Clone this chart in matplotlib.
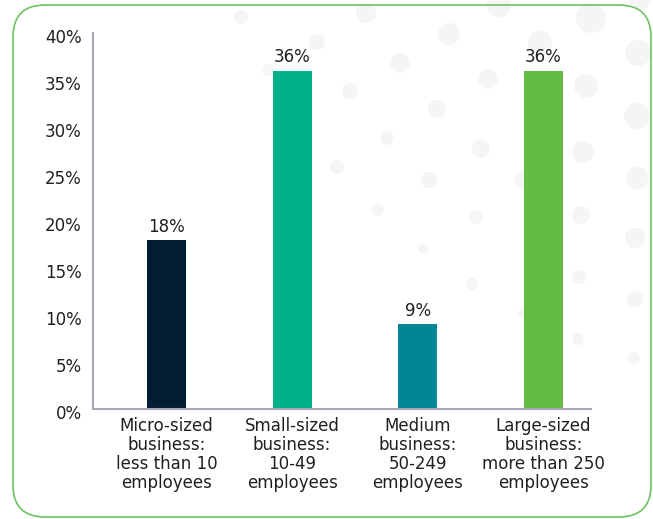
import matplotlib
matplotlib.use("Agg")
import matplotlib.pyplot as plt
from matplotlib.patches import FancyBboxPatch, Circle
from matplotlib.transforms import ScaledTranslation

# Share of businesses by size band (%)
categories = [
    "Micro-sized\nbusiness:\nless than 10\nemployees",
    "Small-sized\nbusiness:\n10-49\nemployees",
    "Medium\nbusiness:\n50-249\nemployees",
    "Large-sized\nbusiness:\nmore than 250\nemployees",
]
values = [18, 36, 9, 36]
bar_colors = ["#021d33", "#00b08b", "#018597", "#64bb46"]
y_ticks = [0, 5, 10, 15, 20, 25, 30, 35, 40]

TEXT = "#231f20"
FS = 12
plt.rcParams["font.family"] = ["DejaVu Sans"]

W, H = 653, 519
fig = plt.figure(figsize=(W / 100, H / 100), dpi=100)

def px(x, y):
    """Pixel position (from top-left) to inches from bottom-left."""
    return x / 100, (H - y) / 100

# Decorative dots in the background (pixel centre x, y, radius)
dots = [
    (241, 17, 7), (317, 42, 8), (366, 13, 10), (268, 70, 6), (400, 63, 10),
    (350, 91, 8), (449, 34, 11), (499, 5, 12), (488, 79, 10), (437, 109, 9),
    (387, 138, 7), (481, 149, 9), (337, 167, 7), (429, 180, 8), (378, 210, 6),
    (476, 217, 7), (423, 249, 5), (472, 284, 6), (540, 43, 12), (523, 180, 9),
    (523, 314, 5),
    (591, 18, 15), (638, 53, 13), (586, 86, 12), (637, 116, 13), (583, 152, 11),
    (637, 178, 11), (640, 0, 10), (581, 215, 9), (635, 238, 10), (579, 277, 7),
    (635, 299, 8), (578, 339, 6), (634, 358, 6),
]
for cx, cy, r in dots:
    fig.add_artist(Circle(px(cx, cy), r / 100, transform=fig.dpi_scale_trans,
                          facecolor="#f5f5f5", edgecolor="none", zorder=-2))

# Rounded green frame
x0, y0 = px(13, 517)
frame = FancyBboxPatch((x0, y0), 6.38, 5.12,
                       boxstyle="round,pad=0,rounding_size=0.32",
                       transform=fig.dpi_scale_trans, facecolor="none",
                       edgecolor="#6cc461", linewidth=1.2, zorder=-1)
fig.add_artist(frame)

ax = fig.add_axes([93 / W, 1 - 409 / H, (591 - 93) / W, (409 - 33) / H])
ax.patch.set_alpha(0)

x = list(range(len(values)))
bars = ax.bar(x, values, width=0.31, color=bar_colors, zorder=2)
for b, v in zip(bars, values):
    ax.annotate(f"{v}%", (b.get_x() + b.get_width() / 2, v),
                xytext=(0, 3), textcoords="offset points",
                ha="center", va="bottom", fontsize=FS, color=TEXT)

ax.set_xlim(-0.585, 3.378)
ax.set_ylim(0, 40)
ax.set_yticks(y_ticks)
ax.set_yticklabels([f"{t}%" for t in y_ticks])
ax.set_xticks(x)
ax.set_xticklabels(categories, linespacing=1.06)

ax.tick_params(axis="y", length=0, pad=8, labelsize=FS, labelcolor=TEXT)
ax.tick_params(axis="x", length=0, pad=6, labelsize=FS, labelcolor=TEXT)
for lab in ax.get_yticklabels():
    lab.set_transform(lab.get_transform() + ScaledTranslation(0, -0.03, fig.dpi_scale_trans))

for side in ("top", "right"):
    ax.spines[side].set_visible(False)
for side in ("left", "bottom"):
    ax.spines[side].set_color("#a3a9b0")
    ax.spines[side].set_linewidth(1.5)

fig.savefig("out.png", dpi=100)
